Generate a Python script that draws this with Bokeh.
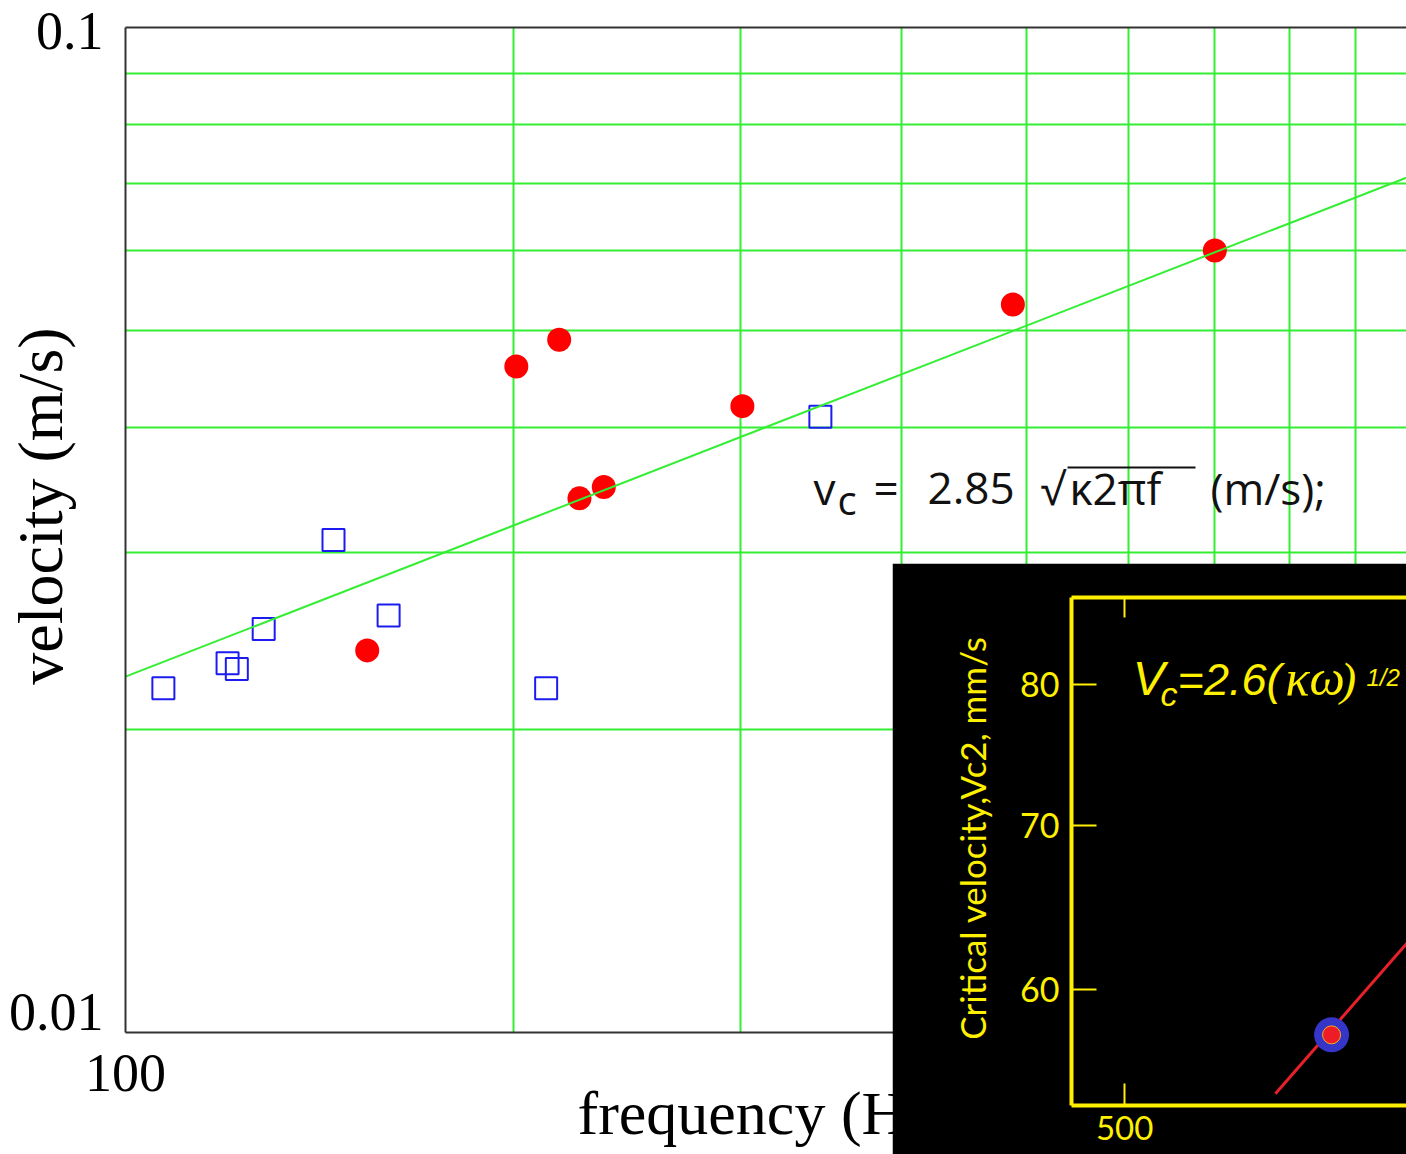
from bokeh.plotting import figure
from bokeh.models import FixedTicker, Range1d, Label, LogAxis
from bokeh.layouts import column
from bokeh.embed import file_html
from bokeh.resources import INLINE

# ---------------- main chart data ----------------
red_freq = [154, 201, 217, 225, 235, 301, 488, 700]
red_vel = [0.0240, 0.0460, 0.0489, 0.0340, 0.0349, 0.0420, 0.0530, 0.0600]
blue_freq = [107, 120, 122, 128, 145, 160, 212, 346]
blue_vel = [0.0220, 0.0233, 0.0230, 0.0252, 0.0309, 0.0260, 0.0220, 0.0410]
fit_freq = [100, 1000]
fit_vel = [0.0226, 0.0714]

x_ticks = [100]
x_tick_labels = ["100"]
y_ticks = [0.01, 0.1]
y_tick_labels = ["0.01\n", "0.1"]
x_grid = [200, 300, 400, 500, 600, 700, 800, 900]
y_grid = [0.02, 0.03, 0.04, 0.05, 0.06, 0.07, 0.08, 0.09]

# ---------------- inset data ----------------
inset_freq = [781]
inset_vel = [57.5]
inset_line_freq = [692, 1000]
inset_line_vel = [54.4, 65.4]
inset_x_ticks = [500]
inset_x_labels = ["500"]
inset_y_ticks = [60, 70, 80]
inset_y_labels = ["60", "70", "80"]

GREEN = "#33ee33"
YELLOW = "#fff000"
SERIF = "Liberation Serif"
SANS = "Open Sans"
NB = "\u00a0"

# ---------------- main figure ----------------
# both figures share a 179px left border; the whole column is pulled 54px left
p = figure(width=1460, height=1154, x_axis_type="log", y_axis_type="log",
           x_range=Range1d(100, 985.8), y_range=Range1d(0.01, 0.1),
           output_backend="svg", toolbar_location=None,
           min_border_left=179, min_border_right=0, min_border_top=27, min_border_bottom=122)
p.outline_line_color = None
p.background_fill_color = "white"
p.border_fill_color = "white"

p.xgrid.ticker = FixedTicker(ticks=x_grid)
p.ygrid.ticker = FixedTicker(ticks=y_grid)
p.grid.grid_line_color = GREEN
p.grid.grid_line_width = 2

for ax in (p.xaxis[0], p.yaxis[0]):
    ax.axis_line_color = "#333333"
    ax.axis_line_width = 2
    ax.major_tick_line_color = None
    ax.major_tick_out = 0
    ax.major_tick_in = 0
    ax.minor_tick_line_color = None
    ax.minor_tick_out = 0
    ax.major_label_text_font = SERIF
    ax.major_label_text_font_size = "54px"
    ax.major_label_text_color = "black"
    ax.axis_label_text_font = SERIF
    ax.axis_label_text_font_style = "normal"
    ax.axis_label_text_color = "black"

p.xaxis.ticker = FixedTicker(ticks=x_ticks)
p.xaxis.major_label_overrides = dict(zip(x_ticks, x_tick_labels))
p.xaxis.major_label_standoff = 22
p.xaxis.axis_label = "frequency (Hz)"
p.xaxis.axis_label_text_font_size = "62px"
p.xaxis.axis_label_standoff = -15

p.yaxis.ticker = FixedTicker(ticks=y_ticks)
p.yaxis.major_label_overrides = dict(zip(y_ticks, y_tick_labels))
p.yaxis.major_label_text_line_height = 0.7
p.yaxis.major_label_standoff = 22
p.yaxis.axis_label = NB * 3 + "velocity (m/s)"
p.yaxis.axis_label_text_font_size = "64px"
p.yaxis.axis_label_standoff = -70

top = LogAxis(ticker=FixedTicker(ticks=[]), axis_line_color="#333333", axis_line_width=2,
              major_tick_line_color=None, minor_tick_line_color=None,
              major_tick_out=0, minor_tick_out=0, major_label_standoff=0,
              major_label_text_font_size="10px", major_label_text_color=None)
p.add_layout(top, "above")

p.scatter(blue_freq, blue_vel, marker="square", size=22, fill_color=None,
          line_color="#1c1cf0", line_width=2)
p.scatter(red_freq, red_vel, marker="circle", size=24, fill_color="#ff0000", line_color=None)
p.line(fit_freq, fit_vel, line_color=GREEN, line_width=2)


# pixel -> data helpers for placing annotations
def fx(px):
    return 10 ** (2 + (px - 125) / 1289)


def vy(py):
    return 10 ** (-2 + (1032 - py) / 1005)


formula = [("v", 813, 503, 44), ("c", 837, 513, 40), ("=", 873, 503, 44),
           ("2.85", 927, 503, 44), ("\u221a", 1040, 503, 44),
           ("\u03ba2\u03c0f", 1069, 503, 44), ("(m/s);", 1210, 503, 44)]
for txt, px, py, fs in formula:
    p.add_layout(Label(x=fx(px), y=vy(py - 0.35 * fs), text=txt, text_font=SANS,
                       text_font_size=f"{fs}px", text_color="#111111",
                       text_align="left", text_baseline="alphabetic"))
p.segment(x0=[fx(1067)], y0=[vy(467)], x1=[fx(1195)], y1=[vy(467)],
          line_color="#111111", line_width=2)

# ---------------- inset figure ----------------
q = figure(width=514, height=591, x_axis_type="log", y_axis_type="log",
           x_range=Range1d(445.9, 917.9), y_range=Range1d(53.8, 86.8),
           output_backend="svg", toolbar_location=None,
           min_border_left=179, min_border_right=0, min_border_top=34, min_border_bottom=49,
           background_fill_color="black", border_fill_color="black")
q.margin = (-591, 0, 0, 946)
q.outline_line_color = None
q.grid.visible = False

for ax in (q.xaxis[0], q.yaxis[0]):
    ax.axis_line_color = YELLOW
    ax.axis_line_width = 4
    ax.major_tick_line_color = YELLOW
    ax.major_tick_line_width = 2
    ax.major_tick_out = 0
    ax.minor_tick_line_color = None
    ax.minor_tick_out = 0
    ax.major_label_text_font = "Lato"
    ax.major_label_text_font_size = "34px"
    ax.major_label_text_color = YELLOW

q.xaxis.ticker = FixedTicker(ticks=inset_x_ticks)
q.xaxis.major_label_overrides = dict(zip(inset_x_ticks, inset_x_labels))
q.xaxis.major_label_text_font_size = "33px"
q.xaxis.major_tick_in = 22
q.xaxis.major_label_standoff = 10

q.yaxis.ticker = FixedTicker(ticks=inset_y_ticks)
q.yaxis.major_label_overrides = dict(zip(inset_y_ticks, inset_y_labels))
q.yaxis.major_tick_in = 25
q.yaxis.major_label_standoff = 12
q.yaxis.axis_label = NB * 3 + "Critical velocity,Vc2, mm/s"
q.yaxis.axis_label_text_font = "Lato"
q.yaxis.axis_label_text_font_size = "35px"
q.yaxis.axis_label_text_font_style = "normal"
q.yaxis.axis_label_text_color = YELLOW
q.yaxis.axis_label_standoff = 24

qtop = LogAxis(ticker=FixedTicker(ticks=inset_x_ticks), axis_line_color=YELLOW, axis_line_width=4,
               major_tick_line_color=YELLOW, major_tick_line_width=2, major_tick_in=20,
               major_tick_out=0, minor_tick_line_color=None, minor_tick_out=0,
               major_label_standoff=0, major_label_text_font_size="10px",
               major_label_text_color=None)
q.add_layout(qtop, "above")

q.line(inset_line_freq, inset_line_vel, line_color="#e8202a", line_width=3)
q.scatter(inset_freq, inset_vel, marker="circle", size=35, fill_color="#3535c8", line_color=None)
q.scatter(inset_freq, inset_vel, marker="circle", size=18, fill_color="#ee1c24",
          line_color="#f0b020", line_width=1)


def ix(px):
    return 500 * 10 ** ((px - 1124) / 1069)


def iy(py):
    return 60 * 10 ** ((990 - py) / 2430)


inset_text = [("V", 1132, 698, 48, "Liberation Sans"),
              ("c", 1160, 708, 34, "Liberation Sans"),
              ("=2.6(", 1177, 698, 45, "Liberation Sans"),
              ("\u03ba\u03c9", 1285, 698, 50, "Liberation Serif"),
              (")", 1340, 698, 47, "Liberation Serif"),
              ("1/2", 1366, 688, 24, "Liberation Sans")]
for txt, px, py, fs, fnt in inset_text:
    q.add_layout(Label(x=ix(px), y=iy(py - 0.35 * fs), text=txt, text_font=fnt,
                       text_font_size=f"{fs}px", text_font_style="italic",
                       text_color=YELLOW, text_align="left", text_baseline="alphabetic"))

layout = column(p, q)
layout.margin = (0, 0, 0, -54)
open("out.html", "w").write(file_html(layout, INLINE))
